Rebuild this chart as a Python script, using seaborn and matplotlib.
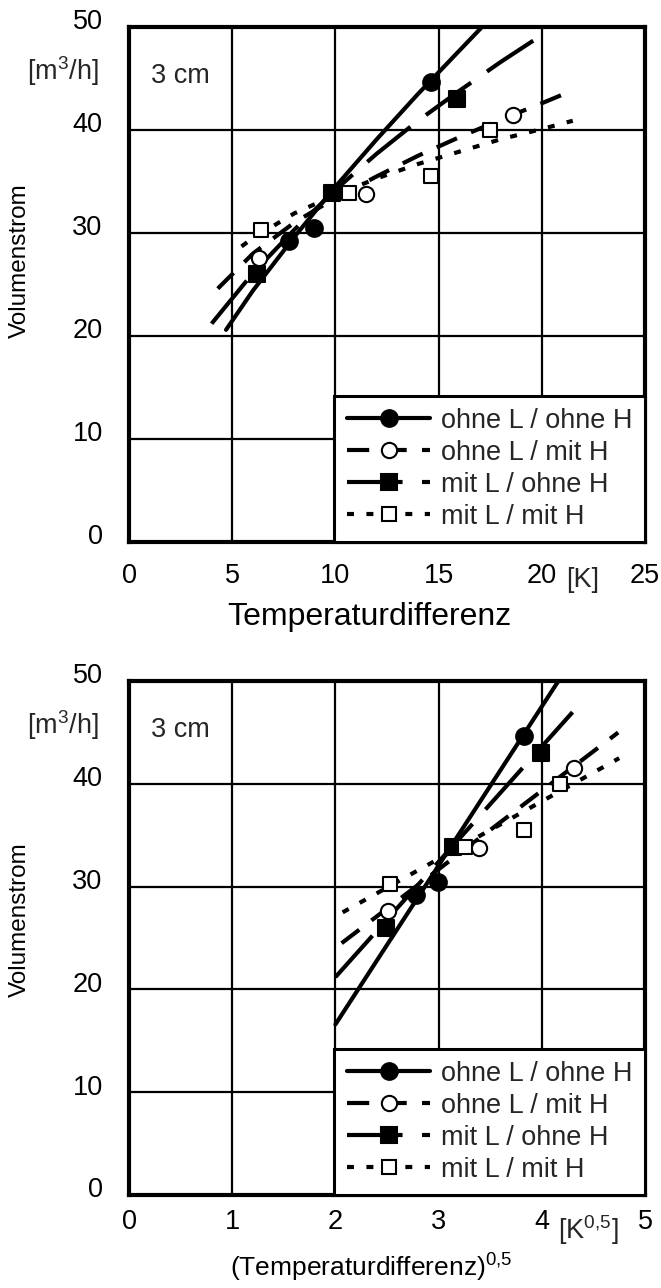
import matplotlib
matplotlib.use("Agg")
import matplotlib.pyplot as plt
import matplotlib.transforms as mtransforms
from matplotlib.lines import Line2D
import seaborn as sns

# --- Daten ---
labels = ["ohne L / ohne H", "ohne L / mit H", "mit L / ohne H", "mit L / mit H"]

# oben: Volumenstrom ueber Temperaturdifferenz [K]
# Messpunkte
dt_pts_oo = [7.75, 8.95, 14.65]
v_pts_oo = [29.2, 30.5, 44.7]
dt_pts_om = [6.3, 11.5, 18.6]
v_pts_om = [27.6, 33.8, 41.5]
dt_pts_mo = [6.2, 9.85, 15.9]
v_pts_mo = [26.0, 33.9, 43.0]
dt_pts_mm = [6.4, 10.65, 14.65, 17.5]
v_pts_mm = [30.3, 33.9, 35.5, 40.0]

# Ausgleichskurven
dt_fit_oo = [4.7, 6, 8, 10, 12, 14, 16, 17.1]
v_fit_oo = [20.6, 24.4, 29.6, 34.5, 39.1, 43.5, 47.7, 50.0]
dt_fit_om = [4.3, 6, 8, 10, 12, 14, 16, 18, 20, 21.2]
v_fit_om = [24.6, 28.0, 31.0, 33.4, 35.5, 37.5, 39.3, 41.0, 42.6, 43.6]
dt_fit_mo = [4.0, 6, 8, 10, 12, 14, 16, 18, 19.6]
v_fit_mo = [21.2, 26.1, 30.3, 34.2, 37.7, 40.9, 43.8, 46.6, 48.7]
dt_fit_mm = [5.45, 6, 8, 10, 12, 14, 16, 18, 20, 21.5]
v_fit_mm = [28.7, 29.5, 31.9, 33.7, 35.3, 36.7, 37.9, 39.1, 40.1, 40.9]

# unten: Volumenstrom ueber (Temperaturdifferenz)^0,5
sq_pts_oo = [2.78, 2.99, 3.83]
sq_pts_om = [2.51, 3.39, 4.31]
sq_pts_mo = [2.49, 3.14, 3.99]
sq_pts_mm = [2.53, 3.26, 3.83, 4.18]

sq_fit_oo = [2.0, 4.16]
vs_fit_oo = [16.6, 50.0]
sq_fit_om = [2.06, 4.74]
vs_fit_om = [24.5, 45.0]
sq_fit_mo = [2.0, 4.30]
vs_fit_mo = [21.2, 47.0]
sq_fit_mm = [2.07, 4.75]
vs_fit_mm = [27.5, 42.5]

y_ticks = [0, 10, 20, 30, 40, 50]
x_ticks_top = [0, 5, 10, 15, 20, 25]
x_ticks_bot = [0, 1, 2, 3, 4, 5]

# --- Stil ---
sns.set_theme(style="white")
plt.rcParams['font.family'] = ['Liberation Sans', 'DejaVu Sans']
plt.rcParams['mathtext.fontset'] = 'custom'
plt.rcParams['mathtext.rm'] = 'Liberation Sans'
plt.rcParams['mathtext.it'] = 'Liberation Sans:italic'
plt.rcParams['mathtext.bf'] = 'Liberation Sans:bold'
plt.rcParams['lines.scale_dashes'] = False

LW = 3.0
STYLES = {
    "ohne L / ohne H": dict(ls='-', marker='o', face='black', ms=12),
    "ohne L / mit H": dict(ls=(0, (16, 11)), marker='o', face='white', ms=11),
    "mit L / ohne H": dict(ls=(0, (40, 14)), marker='s', face='black', ms=11),
    "mit L / mit H": dict(ls=(0, (5, 9)), marker='s', face='white', ms=10),
}


def draw_panel(ax, fits, pts, xlim, xticks):
    for lab, (fx, fy) in zip(labels, fits):
        st = STYLES[lab]
        sns.lineplot(x=fx, y=fy, ax=ax, color='black', linewidth=LW,
                     linestyle=st['ls'], estimator=None, sort=False, zorder=3)
    for lab, (px, py) in zip(labels, pts):
        st = STYLES[lab]
        sns.scatterplot(x=px, y=py, ax=ax, marker=st['marker'], s=st['ms'] ** 2,
                        color=st['face'], edgecolor='black', linewidth=1.5,
                        zorder=5, legend=False)

    ax.set_xlim(*xlim)
    ax.set_ylim(0, 50)
    ax.set_xticks(xticks)
    ax.set_yticks(y_ticks)
    ax.grid(True, color='black', linewidth=1.6)
    ax.set_axisbelow(True)
    for sp in ax.spines.values():
        sp.set_linewidth(3.0)
        sp.set_color('black')
    ax.tick_params(axis='both', length=0, labelsize=19.5, colors='black')
    ax.tick_params(axis='x', pad=15)
    ax.tick_params(axis='y', pad=19)
    shift = mtransforms.ScaledTranslation(0, 5.5 / 72, ax.figure.dpi_scale_trans)
    for t in ax.get_yticklabels():
        t.set_transform(t.get_transform() + shift)

    ax.set_ylabel("Volumenstrom", fontsize=17.5, color='black')
    ax.text(-0.128, 0.915, "[m$^3$/h]", transform=ax.transAxes, fontsize=19.5,
            ha='center', va='center')
    ax.text(0.042, 0.905, "3 cm", transform=ax.transAxes, fontsize=19.5,
            ha='left', va='center')

    handles = []
    for lab in labels:
        st = STYLES[lab]
        handles.append(Line2D([0], [0], color='black', lw=LW, linestyle=st['ls'],
                              marker=st['marker'], markersize=st['ms'],
                              markerfacecolor=st['face'], markeredgecolor='black',
                              markeredgewidth=1.5))
    leg = ax.legend(handles, labels, loc='lower right', bbox_to_anchor=(1, 0),
                    borderaxespad=0, fontsize=19.5, frameon=True, fancybox=False,
                    edgecolor='black', facecolor='white', framealpha=1,
                    handlelength=3.1, handletextpad=0.4, labelspacing=0.22,
                    borderpad=0.45, numpoints=1)
    leg.get_frame().set_linewidth(2.2)
    return ax


fig = plt.figure(figsize=(6.61, 12.88), dpi=100)
ax1 = fig.add_axes([0.1952, 0.5792, 0.7806, 0.3998])
ax2 = fig.add_axes([0.1952, 0.0722, 0.7806, 0.3990])

draw_panel(ax1,
           [(dt_fit_oo, v_fit_oo), (dt_fit_om, v_fit_om), (dt_fit_mo, v_fit_mo), (dt_fit_mm, v_fit_mm)],
           [(dt_pts_oo, v_pts_oo), (dt_pts_om, v_pts_om), (dt_pts_mo, v_pts_mo), (dt_pts_mm, v_pts_mm)],
           (0, 25), x_ticks_top)
ax1.set_xlabel("Temperaturdifferenz", fontsize=23, color='black')
ax1.xaxis.set_label_coords(0.465, -0.146)
ax1.xaxis.label.set_va('center')
ax1.yaxis.set_label_coords(-0.19, 0.547)
ax1.text(0.88, -0.074, "[K]", transform=ax1.transAxes, fontsize=19.5,
         ha='center', va='center')

draw_panel(ax2,
           [(sq_fit_oo, vs_fit_oo), (sq_fit_om, vs_fit_om), (sq_fit_mo, vs_fit_mo), (sq_fit_mm, vs_fit_mm)],
           [(sq_pts_oo, v_pts_oo), (sq_pts_om, v_pts_om), (sq_pts_mo, v_pts_mo), (sq_pts_mm, v_pts_mm)],
           (0, 5), x_ticks_bot)
ax2.set_xlabel("(Temperaturdifferenz)$^{0{,}5}$", fontsize=19, color='black')
ax2.xaxis.set_label_coords(0.47, -0.142)
ax2.xaxis.label.set_va('center')
ax2.yaxis.set_label_coords(-0.19, 0.535)
ax2.text(0.89, -0.068, "[K$^{0{,}5}$]", transform=ax2.transAxes, fontsize=19.5,
         ha='center', va='center')
ax2.tick_params(axis='x', pad=10)

fig.savefig("out.png", dpi=100, facecolor='white')
plt.close(fig)
